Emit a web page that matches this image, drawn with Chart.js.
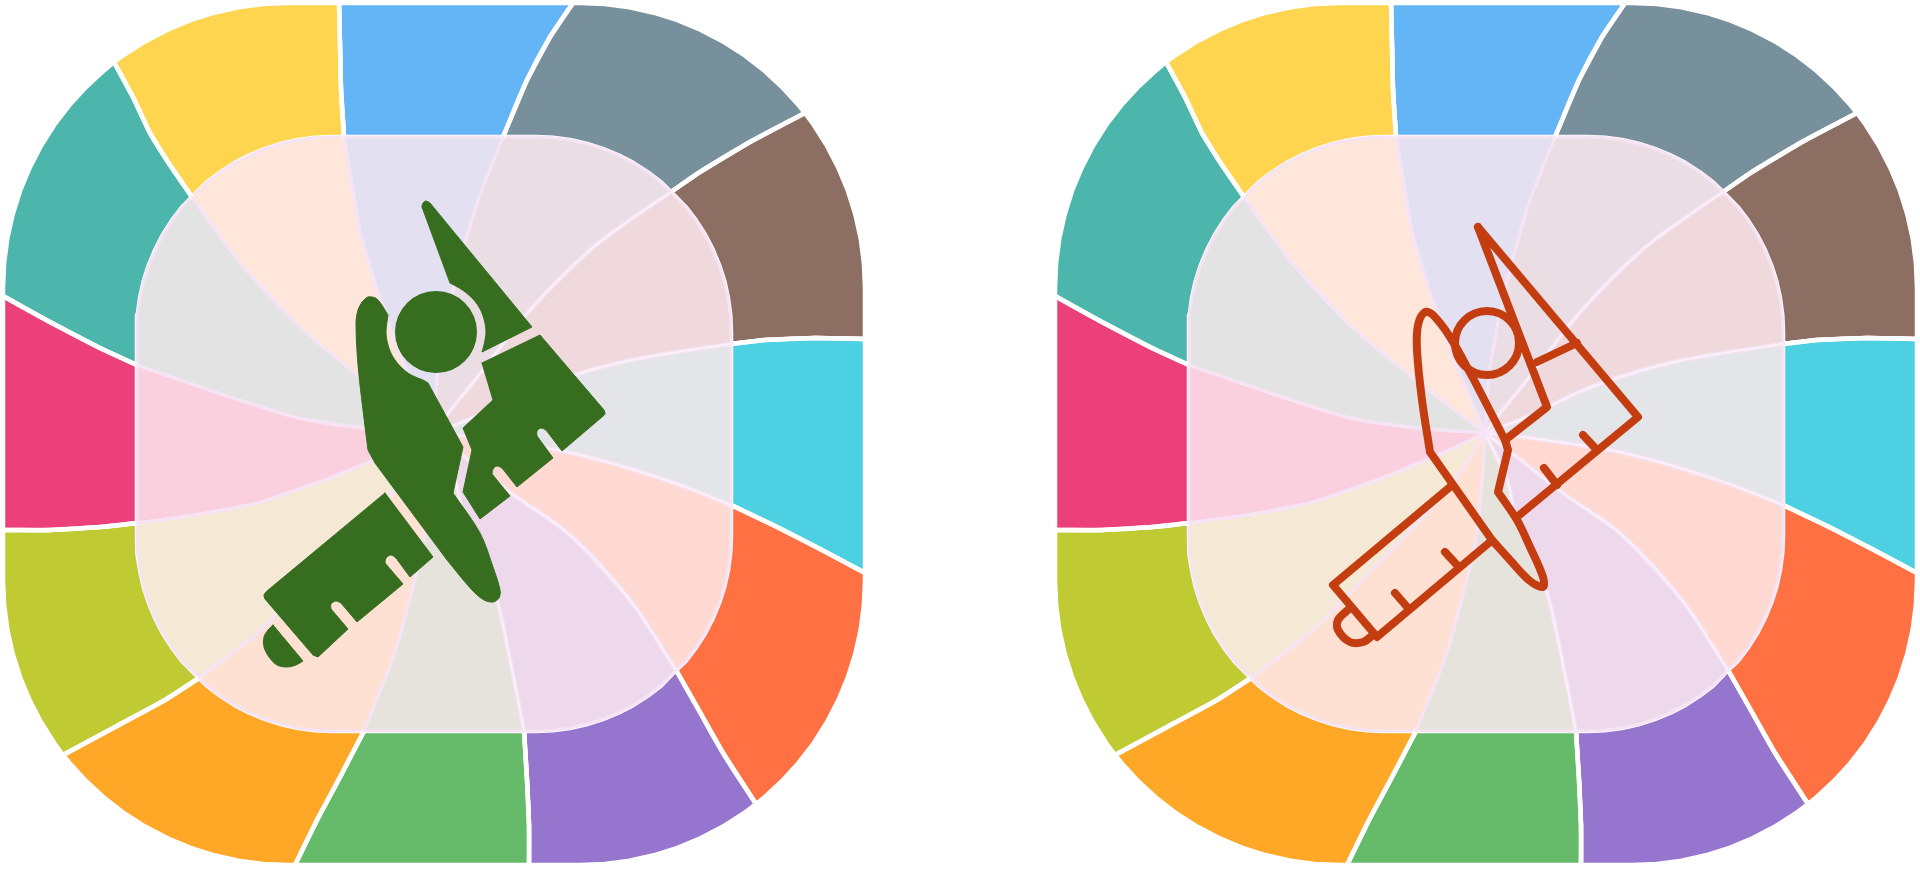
<!DOCTYPE html>
<html>
<head>
<meta charset="utf-8">
<title>Plane icons</title>
<script src="https://cdn.jsdelivr.net/npm/chart.js@4"></script>
<style>
  html, body { margin: 0; padding: 0; background: #fff; overflow: hidden; }
  canvas { position: absolute; top: 0; }
  #iconSolid { left: 0; }
  #iconLine { left: 1052px; }
</style>
</head>
<body>
<canvas id="iconSolid" width="868" height="869"></canvas>
<canvas id="iconLine" width="868" height="869"></canvas>
<script>
// Wedge colours, clockwise from the top blue one
const outerColors = ['#64B5F6', '#78909C', '#8D6E63', '#4DD0E1', '#FF7043', '#9575CD',
                     '#66BB6A', '#FFA726', '#C0CA33', '#EC407A', '#4DB6AC', '#FFD54F'];
const innerColors = ['#E3E0F2', '#EADDE3', '#EFD9DD', '#E3E5E9', '#FFD9D2', '#EED9EC',
                     '#E6E2DC', '#FFE1D3', '#F5E8D5', '#FAD0DF', '#E3E3E3', '#FFE6DB'];

const hub = [433, 433];

// Swirl lines, outer ring part: from the inner square out to the rim
const spokeOuter = [
  [[344,137],[341,90],[340,45],[339,3]],
  [[503,137],[527,80],[550,37],[573,3]],
  [[671,192],[700,172],[750,142],[805,113]],
  [[731,344],[765,340],[815,338],[865,339]],
  [[731,505],[775,526],[820,549],[865,573]],
  [[676,670],[697,707],[723,753],[756,804]],
  [[524,731],[527,780],[529,825],[529,865]],
  [[364,731],[340,777],[317,820],[295,865]],
  [[199,678],[165,700],[115,727],[63,755]],
  [[137,523],[100,527],[50,530],[3,530]],
  [[137,365],[100,348],[50,322],[3,296]],
  [[192,197],[168,162],[150,133],[133,97],[114,62]]
];

// Swirl lines, inner part: from the hub out to the inner square
const spokeInner = [
  [[400,355],[378,293],[360,233],[344,137]],
  [[438,367],[446,323],[461,257],[478,200],[503,137]],
  [[445,417],[475,380],[530,310],[590,250],[640,213],[671,192]],
  [[475,417],[525,393],[568,377],[618,363],[665,354],[731,344]],
  [[471,437],[558,450],[618,465],[680,485],[731,505]],
  [[465,457],[511,493],[570,535],[630,600],[676,670]],
  [[455,480],[465,523],[495,593],[510,660],[524,731]],
  [[431,470],[425,533],[418,567],[395,653],[364,731]],
  [[408,473],[375,513],[298,593],[258,633],[199,678]],
  [[391,453],[325,480],[258,503],[195,515],[137,523]],
  [[363,428],[298,418],[233,398],[137,365]],
  [[360,377],[300,327],[240,263],[192,197]]
];

// These swirl lines are wider in the inner part, with a paler middle
const wideSpokes = [2, 3, 4, 5, 6];

// Rim points between one spoke and the next
const outerRim = [
  [],
  [[580,3],[604.8,4.1],[629.5,7.3],[653.8,12.7],[677.5,20.2],[700.4,29.7],[722.5,41.2],[743.5,54.5],[763.2,69.7],[781.5,86.5],[798.3,104.8]],
  [[813.5,124.5],[826.8,145.5],[838.3,167.6],[847.8,190.5],[855.3,214.2],[860.7,238.5],[863.9,263.2],[865,288]],
  [],
  [[865,580],[863.9,604.8],[860.7,629.5],[855.3,653.8],[847.8,677.5],[838.3,700.4],[826.8,722.5],[813.5,743.5],[798.3,763.2],[781.5,781.5],[763.2,798.3]],
  [[743.5,813.5],[722.5,826.8],[700.4,838.3],[677.5,847.8],[653.8,855.3],[629.5,860.7],[604.8,863.9],[580,865]],
  [],
  [[288,865],[263.2,863.9],[238.5,860.7],[214.2,855.3],[190.5,847.8],[167.6,838.3],[145.5,826.8],[124.5,813.5],[104.8,798.3],[86.5,781.5],[69.7,763.2]],
  [[54.5,743.5],[41.2,722.5],[29.7,700.4],[20.2,677.5],[12.7,653.8],[7.3,629.5],[4.1,604.8],[3,580]],
  [],
  [[3,288],[4.1,263.2],[7.3,238.5],[12.7,214.2],[20.2,190.5],[29.7,167.6],[41.2,145.5],[54.5,124.5],[69.7,104.8],[86.5,86.5],[104.8,69.7]],
  [[124.5,54.5],[145.5,41.2],[167.6,29.7],[190.5,20.2],[214.2,12.7],[238.5,7.3],[263.2,4.1],[288,3]]
];
const innerRim = [
  [],
  [[536,137],[553,137.7],[569.9,140],[586.5,143.6],[602.7,148.8],[618.4,155.3],[633.5,163.1],[647.8,172.3],[661.3,182.6]],
  [[685.4,206.7],[695.7,220.2],[704.9,234.5],[712.7,249.6],[719.2,265.3],[724.4,281.5],[728,298.1],[730.3,315],[731,332]],
  [],
  [[731,536],[730.3,553],[728,569.9],[724.4,586.5],[719.2,602.7],[712.7,618.4],[704.9,633.5],[695.7,647.8],[685.4,661.3]],
  [[661.3,685.4],[647.8,695.7],[633.5,704.9],[618.4,712.7],[602.7,719.2],[586.5,724.4],[569.9,728],[553,730.3],[536,731]],
  [],
  [[332,731],[315,730.3],[298.1,728],[281.5,724.4],[265.3,719.2],[249.6,712.7],[234.5,704.9],[220.2,695.7],[206.7,685.4]],
  [[182.6,661.3],[172.3,647.8],[163.1,633.5],[155.3,618.4],[148.8,602.7],[143.6,586.5],[140,569.9],[137.7,553],[137,536]],
  [],
  [[137,332],[137.7,315],[140,298.1],[143.6,281.5],[148.8,265.3],[155.3,249.6],[163.1,234.5],[172.3,220.2],[182.6,206.7]],
  [[206.7,182.6],[220.2,172.3],[234.5,163.1],[249.6,155.3],[265.3,148.8],[281.5,143.6],[298.1,140],[315,137.7],[332,137]]
];

// Solid plane, each shape is a list of runs that meet at sharp corners
const solidWing = [
  [[422,207],[423,203],[426,201],[430,203]],
  [[430,203],[532,327]],
  [[532,327],[482,352]],
  [[482,352],[484,345],[486,332],[484,319],[479,307],[471,297],[461,289],[450,283]],
  [[450,283],[422,207]]
];
const solidWingLow = [
  [[482,363],[540,335]],
  [[540,335],[604,410]],
  [[604,410],[605,414],[602,417]],
  [[602,417],[562,451]],
  [[562,451],[546,430]],
  [[546,430],[541,428],[537,431],[537,436]],
  [[537,436],[553,458]],
  [[553,458],[517,487]],
  [[517,487],[502,468]],
  [[502,468],[497,466],[493,469],[492,474]],
  [[492,474],[510,496]],
  [[510,496],[480,519]],
  [[480,519],[463,492]],
  [[463,492],[472,450]],
  [[472,450],[463,428]],
  [[463,428],[493,400]],
  [[493,400],[482,363]]
];
const solidBody = [
  [[362,302],[368,297],[377,299],[388,315]],
  [[388,315],[386,332],[388,345],[393,357],[401,367],[411,375],[423,380],[428,383]],
  [[428,383],[463,447]],
  [[463,447],[453,493]],
  [[453,493],[480,533],[493,567],[500,590],[499,598],[493,602],[484,600],[472,590],[447,560]],
  [[447,560],[375,463]],
  [[375,463],[368,450]],
  [[368,450],[363,410],[358,365],[356,323],[358,310],[362,302]]
];
const solidTail = [
  [[385,493],[433,557]],
  [[433,557],[410,577]],
  [[410,577],[396,558]],
  [[396,558],[391,555],[386,558],[385,563]],
  [[385,563],[403,584]],
  [[403,584],[357,622]],
  [[357,622],[341,603]],
  [[341,603],[336,601],[331,604],[331,609]],
  [[331,609],[348,629]],
  [[348,629],[318,657]],
  [[318,657],[313,655]],
  [[313,655],[265,599]],
  [[265,599],[264,595],[267,591]],
  [[267,591],[385,493]]
];
const solidCone = [
  [[273,625],[303,661]],
  [[303,661],[296,665],[287,667],[277,665],[269,657],[264,647],[264,637],[268,630],[273,625]]
];
const solidHead = [[436,332]];

// Outline plane
const lineWingOuter = [[[426,227],[586,417]], [[586,417],[465,517]]];
const lineWingInner = [[[426,227],[495,407]], [[495,407],[453,440]]];
const lineWingBar = [[[485,362],[525,343]]];
const lineTicks = [
  [[[531,435],[545,450]]],
  [[[492,468],[505,485]]],
  [[[393,552],[405,565]]],
  [[[343,593],[356,608]]]
];
const lineBody = [
  [[378,452],[370,400],[365,350],[366,325],[373,312],[381,315],[398,337],[421,378]],
  [[421,378],[453,440]],
  [[453,440],[456,450]],
  [[456,450],[446,492]],
  [[446,492],[465,520],[478,547],[491,577],[491,587],[478,581],[458,560],[440,540]],
  [[440,540],[378,452]]
];
const lineTail = [[[398,487],[281,585]], [[281,585],[325,637]], [[325,637],[438,542]]];
const lineCone = [[[298,608],[286,620],[286,630],[298,642],[311,642],[321,635]]];
const lineHead = [[435,343]];

const planeGreen = '#366D1F';
const planeRed = '#C43D10';
const ringLine = '#FFFFFF';
const coreLine = '#F6E4F5';

const toPoints = list => list.map(p => ({ x: p[0], y: p[1] }));
// runs share their end points, the doubled point keeps the corner sharp under tension
const joinRuns = runs => toPoints(runs.flat());
const backwards = list => list.slice().reverse();

function wedgeDatasets() {
  const sets = [];
  outerColors.forEach((color, i) => {
    const next = (i + 1) % 12;
    const rimFrom = spokeOuter[i][spokeOuter[i].length - 1];
    const rimTo = spokeOuter[next][spokeOuter[next].length - 1];
    const runs = [
      spokeOuter[i],
      [rimFrom].concat(outerRim[i], [rimTo]),
      backwards(spokeOuter[next]),
      backwards([spokeOuter[i][0]].concat(innerRim[i], [spokeOuter[next][0]]))
    ];
    sets.push({ data: joinRuns(runs), backgroundColor: color, borderColor: ringLine, borderWidth: 4.5, fill: 'shape', tension: 0 });
  });
  innerColors.forEach((color, i) => {
    const next = (i + 1) % 12;
    const from = [hub].concat(spokeInner[i]);
    const to = [hub].concat(spokeInner[next]);
    const runs = [
      from,
      [from[from.length - 1]].concat(innerRim[i], [to[to.length - 1]]),
      backwards(to)
    ];
    sets.push({ data: joinRuns(runs), backgroundColor: color, borderColor: coreLine, borderWidth: 3, fill: 'shape', tension: 0 });
  });
  // smooth swirl lines over the wedge edges
  spokeOuter.forEach(spoke => {
    sets.push({ data: toPoints(spoke), borderColor: ringLine, borderWidth: 4.5, fill: false });
  });
  spokeInner.forEach((spoke, i) => {
    const path = toPoints([hub].concat(spoke));
    const wide = wideSpokes.includes(i);
    sets.push({ data: path, borderColor: coreLine, borderWidth: wide ? 4.5 : 3, fill: false });
    if (wide) sets.push({ data: path, borderColor: '#FBF3FA', borderWidth: 1.5, fill: false });
  });
  return sets;
}

function solidPlane() {
  const sets = [solidWing, solidWingLow, solidBody, solidTail, solidCone].map(runs => ({
    data: joinRuns(runs), backgroundColor: planeGreen, borderColor: planeGreen, borderWidth: 1, fill: 'shape'
  }));
  sets.push({ data: toPoints(solidHead), showLine: false, pointRadius: 41, pointBackgroundColor: planeGreen, pointBorderWidth: 0 });
  return sets;
}

function linePlane() {
  const paths = [lineWingOuter, lineWingInner, lineWingBar, lineBody, lineTail, lineCone].concat(lineTicks);
  const sets = paths.map(runs => ({ data: joinRuns(runs), borderColor: planeRed, borderWidth: 8, fill: false }));
  sets.push({ data: toPoints(lineHead), showLine: false, pointRadius: 32, pointBackgroundColor: 'rgba(0,0,0,0)', pointBorderColor: planeRed, pointBorderWidth: 8 });
  return sets;
}

function drawIcon(id, planeSets) {
  return new Chart(document.getElementById(id), {
    type: 'scatter',
    // first dataset ends up on top, so the plane goes first
    data: { datasets: planeSets.concat(wedgeDatasets().reverse()) },
    options: {
      responsive: false,
      animation: false,
      showLine: true,
      layout: { padding: 0, autoPadding: false },
      elements: {
        point: { radius: 0, hoverRadius: 0 },
        line: { tension: 0.33, capBezierPoints: false, borderCapStyle: 'round', borderJoinStyle: 'round' }
      },
      plugins: { legend: { display: false }, tooltip: { enabled: false } },
      scales: {
        x: { type: 'linear', display: false, min: 0, max: 868 },
        y: { type: 'linear', display: false, min: 0, max: 869, reverse: true }
      }
    }
  });
}

drawIcon('iconSolid', solidPlane());
drawIcon('iconLine', linePlane());
</script>
</body>
</html>
